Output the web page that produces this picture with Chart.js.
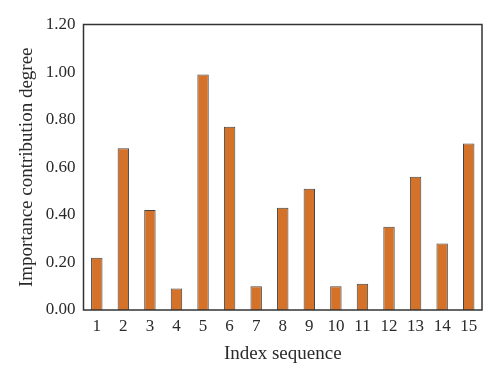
<!DOCTYPE html>
<html>
<head>
<meta charset="utf-8">
<script src="https://cdn.jsdelivr.net/npm/chart.js@4"></script>
<style>
html,body{margin:0;padding:0;background:#fff;}
#wrap{width:500px;height:381px;position:relative;}
</style>
</head>
<body>
<div id="wrap"><canvas id="c" width="500" height="381"></canvas></div>
<script>
const categories = ["1","2","3","4","5","6","7","8","9","10","11","12","13","14","15"];
const importance = [0.22,0.68,0.42,0.09,0.99,0.77,0.10,0.43,0.51,0.10,0.11,0.35,0.56,0.28,0.70];
const yTicks = [0,0.2,0.4,0.6,0.8,1.0,1.2];

const frame = {
  id:'frame',
  afterDatasetsDraw(chart){
    const {ctx, chartArea:a} = chart;
    ctx.save();
    ctx.strokeStyle = '#333';
    ctx.lineWidth = 1.5;
    ctx.strokeRect(a.left, a.top, a.right - a.left, a.bottom - a.top);
    ctx.restore();
  }
};

new Chart(document.getElementById('c'), {
  type: 'bar',
  data: {
    labels: categories,
    datasets: [{
      data: importance,
      backgroundColor: '#D4722A',
      borderColor: '#444',
      borderWidth: 1,
      barPercentage: 0.43,
      categoryPercentage: 1.0
    }]
  },
  options: {
    responsive: false,
    animation: false,
    layout: { padding: { left: 0, right: 18, top: 24.5, bottom: 0 } },
    plugins: { legend: { display: false }, tooltip: { enabled: false } },
    scales: {
      x: {
        grid: { display: false, drawTicks: false },
        border: { display: false },
        ticks: { color: '#2a2a2a', font: { family: 'Liberation Serif', size: 17 }, padding: 6, maxRotation: 0 },
        title: { display: true, text: 'Index sequence', color: '#2a2a2a', font: { family: 'Liberation Serif', size: 19 }, padding: { top: 0, bottom: 16 } },
        afterFit(s){ s.height = 71; }
      },
      y: {
        min: 0, max: 1.2,
        afterBuildTicks(s){ s.ticks = yTicks.map(v => ({value: v})); },
        grid: { display: false, drawTicks: false },
        border: { display: false },
        ticks: { color: '#2a2a2a', font: { family: 'Liberation Serif', size: 17 }, padding: 8, callback: v => v.toFixed(2) },
        title: { display: true, text: 'Importance contribution degree', color: '#2a2a2a', font: { family: 'Liberation Serif', size: 19 }, padding: { top: 15.5, bottom: 0 } },
        afterFit(s){ s.width = 83.5; }
      }
    }
  },
  plugins: [frame]
});
</script>
</body>
</html>
